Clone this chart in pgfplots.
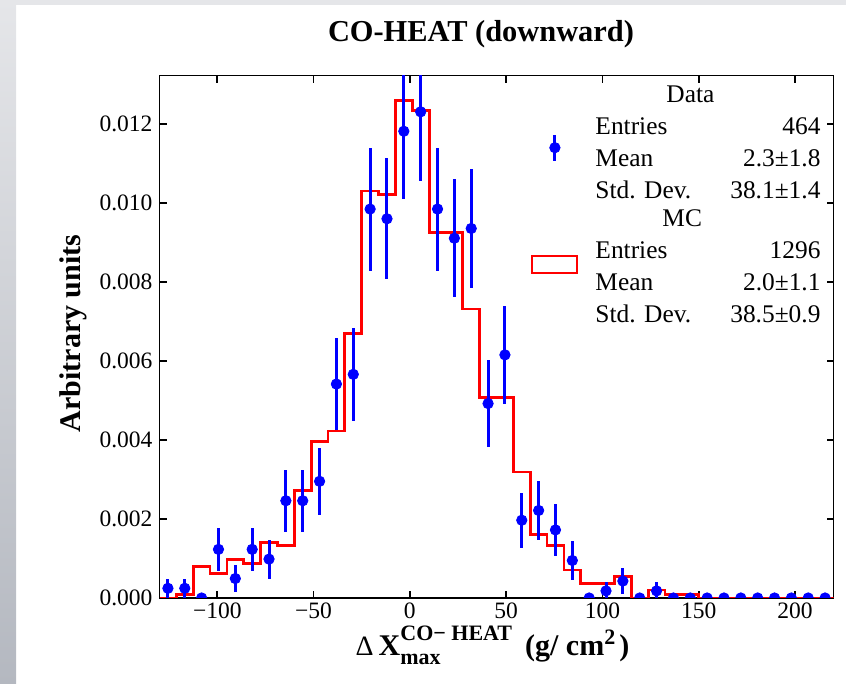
\documentclass[border=0pt]{standalone}
\usepackage{fontspec}
\setmainfont{Liberation Serif}
\usepackage{pgfplots}
\pgfplotsset{compat=1.18}
\usepackage{pgfplotstable}
\definecolor{stripTop}{RGB}{229,230,233}
\definecolor{stripBot}{RGB}{180,184,192}

\pgfplotstableread{
x y
-130 0
-121.25 0.00009
-112.5 0.00080
-103.75 0.00062
-95 0.00098
-86.25 0.00088
-77.5 0.00141
-68.75 0.00133
-60 0.00273
-51.25 0.00396
-42.5 0.00423
-33.75 0.00670
-25 0.01031
-16.25 0.01022
-7.5 0.01260
1.25 0.01234
10 0.00926
18.75 0.00926
27.5 0.00732
36.25 0.00508
45 0.00508
53.75 0.00319
62.5 0.00160
71.25 0.00133
80 0.00071
88.75 0.00037
97.5 0.00037
106.25 0.00054
115 0
123.75 0.00020
132.5 0.00008
141.25 0.00008
150 0
158.75 0
167.5 0
176.25 0
185 0
193.75 0
202.5 0
211.25 0
220 0
}\mcdata

\pgfplotstableread{
x y e
-125.625 0.000246 0.000246
-116.875 0.000246 0.000246
-108.125 0 0
-99.375 0.001232 0.000551
-90.625 0.000493 0.000348
-81.875 0.001232 0.000551
-73.125 0.000985 0.000493
-64.375 0.002463 0.000779
-55.625 0.002463 0.000779
-46.875 0.002956 0.000853
-38.125 0.005419 0.001155
-29.375 0.005665 0.001181
-20.625 0.009852 0.001558
-11.875 0.009606 0.001538
-3.125 0.011823 0.001706
5.625 0.012315 0.001742
14.375 0.009852 0.001558
23.125 0.009113 0.001498
31.875 0.009360 0.001518
40.625 0.004926 0.001102
49.375 0.006158 0.001232
58.125 0.001970 0.000697
66.875 0.002217 0.000739
75.625 0.001724 0.000652
84.375 0.000950 0.000493
93.125 0 0
101.875 0.00018 0.00023
110.625 0.00043 0.00034
119.375 0 0
128.125 0.00018 0.00023
136.875 0 0
145.625 0 0
154.375 0 0
163.125 0 0
171.875 0 0
180.625 0 0
189.375 0 0
198.125 0 0
206.875 0 0
215.625 0 0
}\datatab

\newsavebox\legData
\newsavebox\legMC

\begin{document}
\sbox\legData{\fontsize{12.7}{16}\selectfont\begin{tabular*}{112.5pt}{@{}l@{\extracolsep{\fill}}r@{}}\multicolumn{2}{@{}l@{}}{\hspace{35.5pt}Data}\\ Entries & 464\\ Mean & 2.3±1.8\\ Std. Dev. & 38.1±1.4\end{tabular*}}%
\sbox\legMC{\fontsize{12.7}{16}\selectfont\begin{tabular*}{112.5pt}{@{}l@{\extracolsep{\fill}}r@{}}\multicolumn{2}{@{}l@{}}{\hspace{33.5pt}MC}\\ Entries & 1296\\ Mean & 2.0±1.1\\ Std. Dev. & 38.5±0.9\end{tabular*}}%
\begin{tikzpicture}[x=0.5pt,y=0.5pt]
\path[use as bounding box] (0,0) rectangle (846,684);
\fill[top color=stripTop, bottom color=stripBot] (0,0) rectangle (16,684);
\fill[stripTop] (0,679) rectangle (846,684);
\begin{axis}[
  at={(79.75pt,43pt)}, anchor=south west, scale only axis,
  width=337pt, height=261.15pt,
  xmin=-130, xmax=220, ymin=0, ymax=0.01323,
  axis line style={line width=0.8pt},
  tick align=inside, major tick length=3.5pt,
  every tick/.style={black, line width=0.8pt},
  xtick={-100,-50,0,50,100,150,200},
  xticklabels={−100,−50,0,50,100,150,200},
  ytick={0,0.002,0.004,0.006,0.008,0.010,0.012},
  yticklabels={0.000,0.002,0.004,0.006,0.008,0.010,0.012},
  scaled y ticks=false,
  minor tick num=0,
  xtick pos=both, ytick pos=both,
  xticklabel pos=lower, yticklabel pos=left,
  tick label style={font=\fontsize{11.75}{14}\selectfont},
  xticklabel style={yshift=1pt},
  clip marker paths=true,
  legend style={draw=none, fill=none, at={(1,1)}, anchor=north east,
    xshift=-6.5pt, yshift=-2pt, inner sep=0pt, outer sep=0pt,
    row sep=-1.75pt, column sep=8.5pt, nodes={inner sep=0pt, text depth=}},
  legend cell align=left,
]
\addlegendimage{legend image code/.code={\draw[blue,line width=1.5pt] (11.25pt,-8.5pt)--(11.25pt,4.5pt); \fill[blue] (11.25pt,-2pt) circle (2.6pt);}}
\addlegendentry{\usebox\legData}
\addlegendimage{legend image code/.code={\draw[red,line width=1.1pt] (0pt,-2.25pt) rectangle (22.5pt,6.25pt);}}
\addlegendentry{\usebox\legMC}
\addplot[const plot, red, line width=1.4pt, forget plot] table[x=x,y=y] {\mcdata};
\addplot[only marks, blue, mark=*, mark size=2.6pt, forget plot,
  error bars/.cd, y dir=both, y explicit, error mark=none,
  error bar style={line width=1.5pt}] table[x=x,y=y,y error=e] {\datatab};
\end{axis}
\node[anchor=base, font=\fontsize{15.2}{18}\selectfont\bfseries] at (481,642) {CO-HEAT (downward)};
\node[rotate=90, inner sep=0pt, font=\fontsize{15}{18}\selectfont\bfseries] at (73.5,350.5) {Arbitrary units};
\node[anchor=base, inner sep=0pt, font=\fontsize{15}{18}\selectfont\bfseries] at (492.5,28) {{\mdseries\fontsize{14}{16}\selectfont Δ}\hspace{2.5pt}X\rlap{\raisebox{-4.5pt}{\fontsize{11}{13}\selectfont max}}\raisebox{7.5pt}{\fontsize{11}{13}\selectfont CO− HEAT}\hspace{6.5pt}(g/ cm\raisebox{5.5pt}{\fontsize{11}{13}\selectfont 2}\hspace{2pt})};
\end{tikzpicture}
\end{document}
